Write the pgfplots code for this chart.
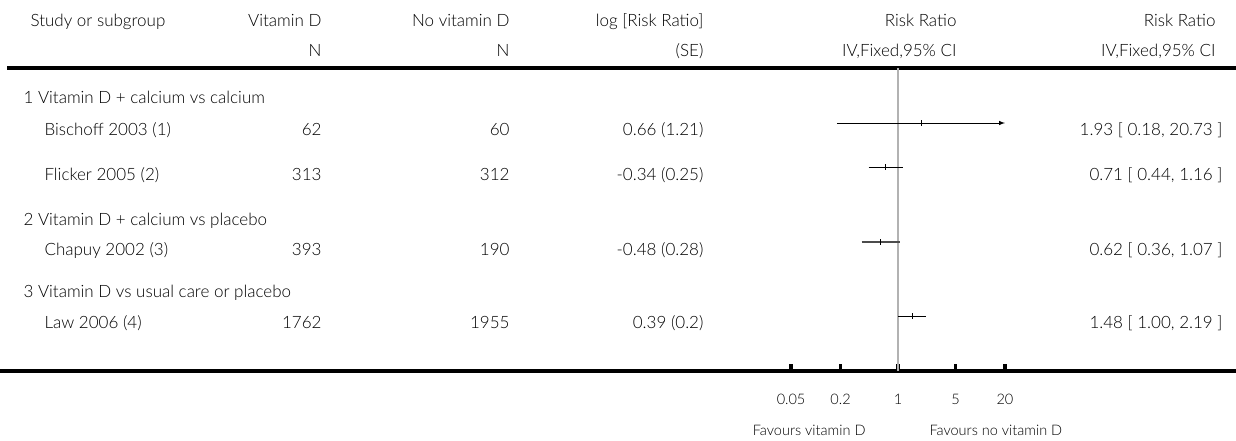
\documentclass[border=0pt]{standalone}
\usepackage{pgfplots}
\pgfplotsset{compat=1.18}
\usepackage{fontspec}
\setmainfont{Lato Light}
\begin{document}
\begin{tikzpicture}[x=1pt,y=1pt,font=\fontsize{17}{20}\selectfont]
\useasboundingbox (0,0) rectangle (1236,-440);
% column headers (positions are text baselines)
\node[anchor=base west] at (27,-26) {Study or subgroup};
\node[anchor=base east] at (325,-26) {Vitamin D};
\node[anchor=base east] at (325,-56) {N};
\node[anchor=base east] at (513,-26) {No vitamin D};
\node[anchor=base east] at (513,-56) {N};
\node[anchor=base east] at (707,-26) {log [Risk Ratio]};
\node[anchor=base east] at (707,-56) {(SE)};
\node[anchor=base east] at (960,-26) {Risk Ratio};
\node[anchor=base east] at (960,-56) {IV,Fixed,95\% CI};
\node[anchor=base east] at (1219,-26) {Risk Ratio};
\node[anchor=base east] at (1219,-56) {IV,Fixed,95\% CI};
\draw[line width=4pt] (7,-68) -- (1236,-68);
% subgroup headings
\node[anchor=base west] at (20,-103) {1 Vitamin D + calcium vs calcium};
\node[anchor=base west] at (20,-225) {2 Vitamin D + calcium vs placebo};
\node[anchor=base west] at (20,-297) {3 Vitamin D vs usual care or placebo};
% study rows
\foreach \y/\name/\nd/\nn/\lrr/\ci in {
  135/Bischoff 2003 (1)/62/60/0.66 (1.21)/1.93 [ 0.18{,} 20.73 ],
  180/Flicker 2005 (2)/313/312/-0.34 (0.25)/0.71 [ 0.44{,} 1.16 ],
  255/Chapuy 2002 (3)/393/190/-0.48 (0.28)/0.62 [ 0.36{,} 1.07 ],
  328/Law 2006 (4)/1762/1955/0.39 (0.2)/1.48 [ 1.00{,} 2.19 ]}{
  \node[anchor=base west] at (41,-\y) {\name};
  \node[anchor=base east] at (325,-\y) {\nd};
  \node[anchor=base east] at (513,-\y) {\nn};
  \node[anchor=base east] at (707,-\y) {\lrr};
  \node[anchor=base east] at (1226,-\y) {\ci};
}
\begin{axis}[
  at={(0,-371)}, anchor=south west,
  width=1236pt, height=303pt, scale only axis,
  xmode=log, xmin=1.19e-11, xmax=1.294e4,
  ymin=-371, ymax=-68,
  axis x line*=bottom, axis y line=none,
  axis line style={line width=4pt, -},
  xtick={0.05,0.2,1,5,20},
  xticklabels={0.05,0.2,1,5,20},
  xminorticks=false,
  tick align=inside,
  major tick length=7pt,
  x tick style={line width=3.5pt, black},
  x tick label style={font=\fontsize{14.5}{17}\selectfont, anchor=base, yshift=-33pt},
  /pgf/number format/assume math mode=true,
  clip=false,
]
% line of no effect
\addplot[gray!60, line width=2pt] coordinates {(1,-371) (1,-68)};
% confidence intervals (Bischoff upper limit truncated at the scale end, 20)
\addplot[black, line width=1pt, -latex] coordinates {(0.18,-123) (20,-123)};
\addplot[black, line width=1pt] coordinates {(0.44,-167) (1.16,-167)};
\addplot[black!70, line width=1.4pt] coordinates {(0.36,-242) (1.07,-242)};
\addplot[black, line width=1pt] coordinates {(1.00,-316) (2.19,-316)};
% point estimates
\addplot[only marks, mark=|, mark size=3pt, mark options={line width=1pt}]
  coordinates {(1.93,-123) (0.71,-167) (0.62,-242) (1.48,-316)};
\end{axis}
\node[anchor=base east, font=\fontsize{14.5}{17}\selectfont] at (869,-435) {Favours vitamin D};
\node[anchor=base west, font=\fontsize{14.5}{17}\selectfont] at (926,-435) {Favours no vitamin D};
\end{tikzpicture}
\end{document}
